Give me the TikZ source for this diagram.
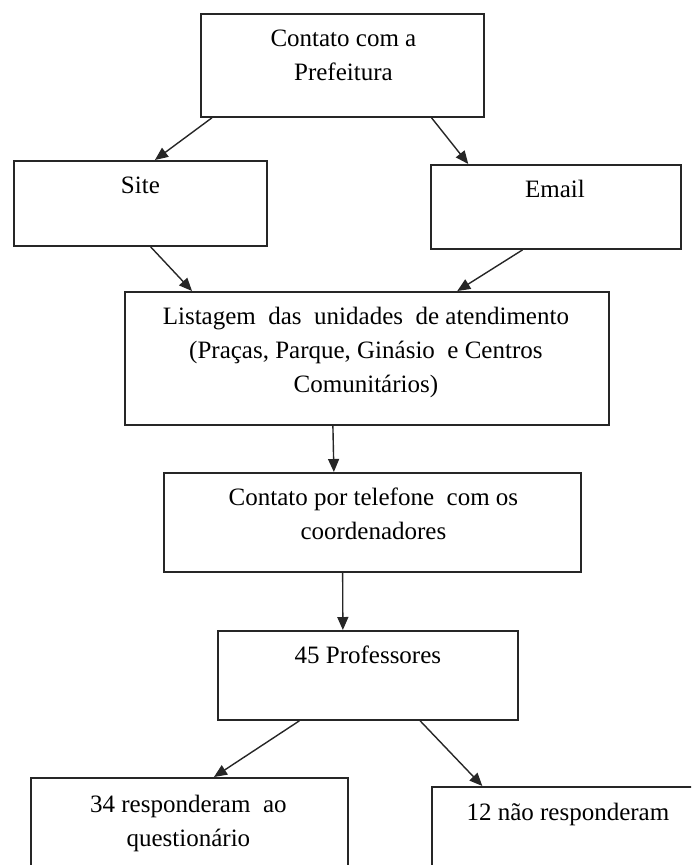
\documentclass[tikz,border=0pt]{standalone}
\usepackage{fontspec}
\setmainfont{Liberation Serif}
\usetikzlibrary{arrows.meta,calc}
\tikzset{
  box/.style={draw=black!85, line width=1.8pt, inner sep=0pt, anchor=north west},
  txt/.style={anchor=north, inner sep=0pt, align=center, font=\fontsize{25}{34}\selectfont},
  arr/.style={draw=black!85, line width=1.4pt, -{Triangle[length=13pt,width=11pt]}},
}
\begin{document}
\begin{tikzpicture}[x=1pt,y=-1pt]
\useasboundingbox (0,0) rectangle (691,865);
\clip (0,0) rectangle (691,865);
% boxes
\node[box, minimum width=283pt, minimum height=103pt] (pref) at (200,13) {};
\node[box, minimum width=253pt, minimum height=85pt] (site) at (13,160) {};
\node[box, minimum width=250pt, minimum height=84pt] (email) at (430,164) {};
\node[box, minimum width=484pt, minimum height=133pt] (list) at (124,291) {};
\node[box, minimum width=417pt, minimum height=99pt] (tel) at (163,472) {};
\node[box, minimum width=300pt, minimum height=89pt] (prof) at (217,630) {};
\node[box, minimum width=317pt, minimum height=120pt] (resp) at (30,777) {};
\node[box, minimum width=272pt, minimum height=120pt] (nresp) at (431,786) {};
% texts
\node[txt] (pref-t) at ($(pref.north)+(1,9)$) {\strut Contato com a\\Prefeitura};
\node[txt] (site-t) at ($(site.north)+(0,9)$) {\strut Site};
\node[txt] (email-t) at ($(email.north)+(-1,9)$) {\strut Email};
\node[txt] (list-t) at ($(list.north)+(-1,9)$) {\strut Listagem\ \ das\ \ unidades\ \ de\ atendimento\\(Praças,\ Parque,\ Ginásio\ \ e Centros\\Comunitários)};
\node[txt] (tel-t) at ($(tel.north)+(1,9)$) {\strut Contato por telefone\ \ com os\\coordenadores};
\node[txt] (prof-t) at ($(prof.north)+(0,9)$) {\strut 45 Professores};
\node[txt] (resp-t) at ($(resp.north)+(-1,11)$) {\strut 34 responderam\ \ ao\\questionário};
\node[txt] (nresp-t) at ($(nresp.north)+(0,10)$) {\strut 12 não responderam};
% arrows
\draw[arr] ($(pref.south west)!0.042!(pref.south east)$) -- ($(site.north west)!0.557!(site.north east)$);
\draw[arr] ($(pref.south west)!0.813!(pref.south east)$) -- ($(email.north west)!0.152!(email.north east)$);
\draw[arr] ($(site.south west)!0.54!(site.south east)$) -- ($(list.north west)!0.14!(list.north east)$);
\draw[arr] ($(email.south west)!0.368!(email.south east)$) -- ($(list.north west)!0.686!(list.north east)$);
\draw[arr] ($(list.south west)!0.43!(list.south east)$) -- ($(tel.north west)!0.408!(tel.north east)$);
\draw[arr] ($(tel.south west)!0.429!(tel.south east)$) -- ($(prof.north west)!0.417!(prof.north east)$);
\draw[arr] ($(prof.south west)!0.273!(prof.south east)$) -- ($(resp.north west)!0.577!(resp.north east)$);
\draw[arr] ($(prof.south west)!0.673!(prof.south east)$) -- ($(nresp.north west)!0.1875!(nresp.north east)$);
\end{tikzpicture}
\end{document}
